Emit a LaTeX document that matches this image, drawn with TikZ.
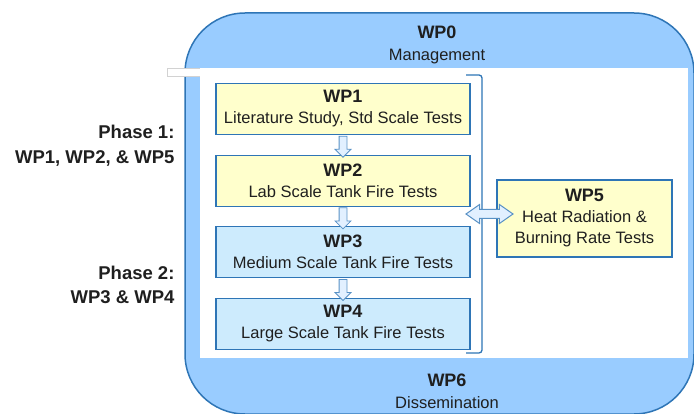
\documentclass[tikz,border=0pt]{standalone}
\usepackage{fontspec}
\setmainfont{Liberation Sans}
\usetikzlibrary{positioning,calc,shapes.arrows}

\definecolor{frameblue}{HTML}{2E75B6}
\definecolor{framefill}{HTML}{99CCFF}
\definecolor{paleyellow}{HTML}{FFFFCC}
\definecolor{paleblue}{HTML}{CDEBFD}
\definecolor{arrowfill}{HTML}{E2F0FF}
\definecolor{inktext}{HTML}{1F1F1F}

\newcommand{\wptitle}[1]{{\fontsize{18}{21}\selectfont\bfseries #1}}

\begin{document}
\begin{tikzpicture}[x=1pt,y=-1pt,
  wpbox/.style={draw=frameblue,line width=1.1pt,fill=#1,minimum width=254pt,
    minimum height=51pt,align=center,text=inktext,inner sep=1pt,
    font=\fontsize{16.5}{21}\selectfont},
  wplabel/.style={align=center,text=inktext,font=\fontsize{16.5}{22}\selectfont},
  phaselabel/.style={anchor=east,align=right,text=inktext,
    font=\fontsize{18.5}{24.5}\selectfont\bfseries},
  downarrow/.style={single arrow,draw=frameblue!80,fill=arrowfill,line width=0.8pt,
    shape border rotate=270,minimum height=21pt,inner sep=3.5pt,
    single arrow head extend=4pt},
]
  \useasboundingbox (0,0) rectangle (694,414);

  % outer frame: WP0 on top, WP6 at the bottom
  \draw[frameblue,line width=1.5pt,fill=framefill,rounded corners=60pt]
    (185,13) rectangle (694,414);
  \draw[gray!35,fill=white] (167,68) rectangle (201,76);
  \fill[white] (200,68) rectangle (688,358);

  \node[wplabel] (wp0) at (437,45) {\wptitle{WP0}\\Management};
  \node[wplabel] (wp6) at (447,391) {\wptitle{WP6}\\Dissemination};

  % work packages
  \node[wpbox=paleyellow] (wp1) at (343,109) {\wptitle{WP1}\\Literature Study, Std Scale Tests};
  \node[wpbox=paleyellow,below=19.5pt of wp1] (wp2) {\wptitle{WP2}\\Lab Scale Tank Fire Tests};
  \node[wpbox=paleblue,below=19.5pt of wp2] (wp3) {\wptitle{WP3}\\Medium Scale Tank Fire Tests};
  \node[wpbox=paleblue,below=19.5pt of wp3] (wp4) {\wptitle{WP4}\\Large Scale Tank Fire Tests};
  \node[wpbox=paleyellow,minimum width=175pt,minimum height=77pt] (wp5) at (584.5,218.5)
    {\wptitle{WP5}\\Heat Radiation \&\\Burning Rate Tests};

  \foreach \a/\b in {wp1/wp2,wp2/wp3,wp3/wp4}
    \node[downarrow] (\a-\b) at ($(\a.south)!0.5!(\b.north)$) {};

  % bracket round WP1--WP4
  \draw[frameblue,line width=1.3pt,rounded corners=3pt]
    (466,75) -- (482,75) -- (482,353) -- (466,353);

  \node[double arrow,draw=frameblue!80,fill=arrowfill,line width=1pt,
    minimum height=47pt,inner sep=4pt,double arrow head extend=5pt,
    double arrow tip angle=70] (link) at (489.5,214) {};

  \node[phaselabel] (ph1) at (178,145.5) {Phase 1:\\WP1, WP2, \& WP5};
  \node[phaselabel] (ph2) at (178,285) {Phase 2:\\WP3 \& WP4};
\end{tikzpicture}
\end{document}
